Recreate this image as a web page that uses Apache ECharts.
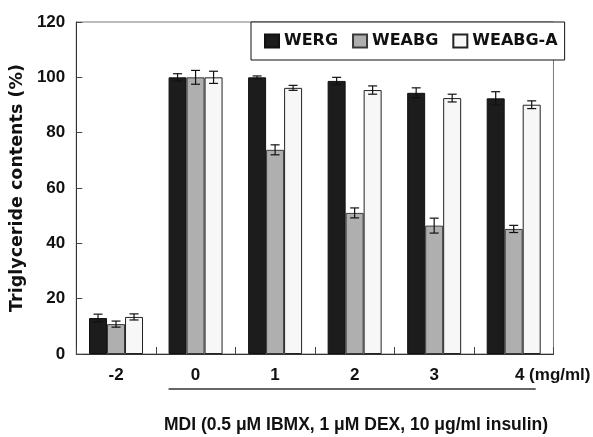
<!DOCTYPE html>
<html>
<head>
<meta charset="utf-8">
<script src="https://cdn.jsdelivr.net/npm/echarts@6/dist/echarts.min.js"></script>
<style>
html,body{margin:0;padding:0;background:#fff;}
#c{width:593px;height:437px;}
</style>
</head>
<body>
<div id="c"></div>
<script>
// ---- data ----
const categories = ['-2', '0', '1', '2', '3', '4'];
const seriesNames = ['WERG', 'WEABG', 'WEABG-A'];
const werg      = [13.0, 100, 100, 98.7, 94.4, 92.4];
const wergErr   = [1.4, 1.3, 0.5, 1.3, 1.8, 2.4];
const weabg     = [10.8, 100, 73.8, 51.0, 46.4, 45.2];
const weabgErr  = [1.1, 2.5, 1.8, 1.8, 2.7, 1.3];
const weabgA    = [13.4, 100, 96.2, 95.4, 92.5, 90.1];
const weabgAErr = [1.1, 2.2, 0.9, 1.5, 1.4, 1.4];
const yTicks = [0, 20, 40, 60, 80, 100, 120];
const yTitle = 'Triglyceride contents (%)';
const unitLabel = '4 (mg/ml)';
const mdiText = 'MDI (0.5 \u03bcM IBMX, 1 \u03bcM DEX, 10 \u03bcg/ml insulin)';

// ---- style ----
const FONT = "'Liberation Sans', Arial, Helvetica, sans-serif";
const NARROW = "'Liberation Sans Narrow', 'Arial Narrow', 'Liberation Sans', Arial, sans-serif";
const WIDE = "'DejaVu Sans', 'Liberation Sans', sans-serif";
const BAR_W = 18;
const colors = ['#1c1c1c', '#afafaf', '#f7f7f7'];
const borders = ['#111111', '#3a3a3a', '#222222'];

const values = [werg, weabg, weabgA];
const errors = [wergErr, weabgErr, weabgAErr];

const errData = [];
values.forEach((arr, s) => {
  arr.forEach((v, i) => {
    errData.push([i, v - errors[s][i], v + errors[s][i], s]);
  });
});

const chart = echarts.init(document.getElementById('c'), null, {renderer: 'canvas'});

const barSeries = seriesNames.map((name, s) => ({
  name: name,
  type: 'bar',
  data: values[s],
  barWidth: BAR_W,
  barGap: '0%',
  itemStyle: {color: colors[s], borderColor: borders[s], borderWidth: 1},
  emphasis: {disabled: true},
  animation: false
}));

const errSeries = {
  name: 'err',
  type: 'custom',
  data: errData,
  z: 10,
  animation: false,
  renderItem: function (params, api) {
    const cat = api.value(0);
    const s = api.value(3);
    const cx = api.coord([cat, 0])[0] + (s - 1) * BAR_W;
    const yLo = api.coord([cat, api.value(1)])[1];
    const yHi = api.coord([cat, api.value(2)])[1];
    const cap = 4.5;
    const st = {stroke: '#111', lineWidth: 1.2};
    return {
      type: 'group',
      children: [
        {type: 'line', shape: {x1: cx, y1: yLo, x2: cx, y2: yHi}, style: st},
        {type: 'line', shape: {x1: cx - cap, y1: yHi, x2: cx + cap, y2: yHi}, style: st},
        {type: 'line', shape: {x1: cx - cap, y1: yLo, x2: cx + cap, y2: yLo}, style: st}
      ]
    };
  }
};

const option = {
  backgroundColor: '#ffffff',
  animation: false,
  textStyle: {fontFamily: FONT},
  grid: {left: 74, right: 36, top: 22, bottom: 83, show: true, borderColor: '#7a7a7a', borderWidth: 1, backgroundColor: 'transparent'},
  legend: {
    data: seriesNames,
    left: 251,
    top: 22,
    orient: 'horizontal',
    itemWidth: 14,
    itemHeight: 13,
    itemGap: 14,
    padding: [11, 7, 11, 13],
    backgroundColor: '#ffffff',
    borderColor: '#111',
    borderWidth: 1,
    selectedMode: false,
    textStyle: {fontFamily: WIDE, fontSize: 16, fontWeight: 'bold', color: '#111'},
    icon: 'rect'
  },
  xAxis: {
    type: 'category',
    data: categories,
    boundaryGap: true,
    axisLine: {show: true, lineStyle: {color: '#333', width: 1}},
    axisTick: {show: true, inside: true, length: 7, lineStyle: {color: '#444'}},
    axisLabel: {
      interval: 0,
      margin: 13,
      fontFamily: NARROW,
      fontSize: 17,
      fontWeight: 'bold',
      color: '#111',
      formatter: function (v, i) {
        if (i === categories.length - 1) return '{u|' + unitLabel + '}';
        return v;
      },
      rich: {u: {fontFamily: NARROW, fontSize: 17, fontWeight: 'bold', color: '#111', padding: [0, 0, 0, 78]}}
    },
    splitLine: {show: false}
  },
  yAxis: {
    type: 'value',
    min: yTicks[0],
    max: yTicks[yTicks.length - 1],
    interval: yTicks[1] - yTicks[0],
    name: yTitle,
    nameLocation: 'middle',
    nameGap: 44,
    nameRotate: 90,
    nameTextStyle: {fontFamily: WIDE, fontSize: 17.5, fontWeight: 'bold', color: '#111'},
    axisLine: {show: true, lineStyle: {color: '#333', width: 1}},
    axisTick: {show: true, inside: true, length: 6, lineStyle: {color: '#444'}},
    axisLabel: {margin: 11, fontFamily: NARROW, fontSize: 17, fontWeight: 'bold', color: '#111'},
    splitLine: {show: false}
  },
  series: barSeries.concat([errSeries])
};

chart.setOption(option);

// bracket line and MDI caption under the axis
const c0 = chart.convertToPixel({xAxisIndex: 0}, categories[1]);
const c4 = chart.convertToPixel({xAxisIndex: 0}, categories[categories.length - 1]);
const x1 = c0 - 1.5 * BAR_W;
const x2 = c4 + 1.5 * BAR_W - 5;
chart.setOption({
  graphic: [
    {type: 'line', shape: {x1: x1, y1: 389, x2: x2, y2: 389}, style: {stroke: '#333', lineWidth: 1.5}, silent: true},
    {type: 'text', x: 356, y: 425, style: {text: mdiText, fontFamily: FONT, fontSize: 17.5, fontWeight: 'bold', fill: '#111', textAlign: 'center', textVerticalAlign: 'middle'}, silent: true}
  ]
});
</script>
</body>
</html>
